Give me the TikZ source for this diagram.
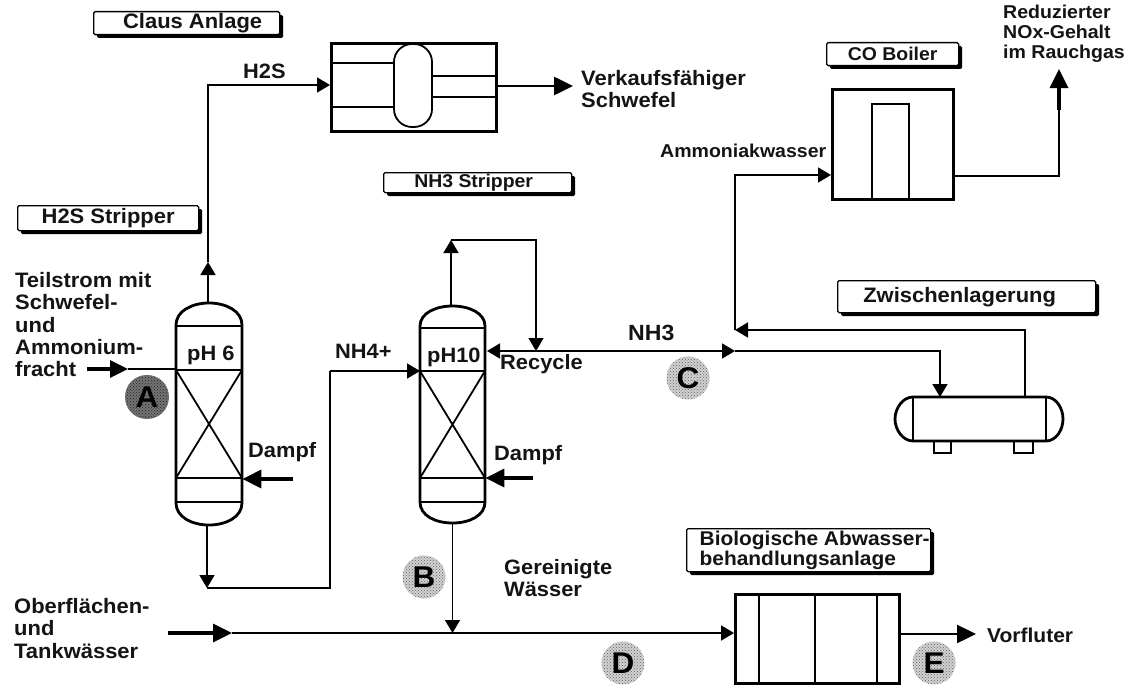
\documentclass[tikz,border=0pt]{standalone}
\usepackage{fontspec}
\setmainfont[FakeStretch=1.05]{Liberation Sans}
\usetikzlibrary{arrows.meta,calc,patterns}
\tikzset{
  x=1pt,y=-1pt,
  smalltxt/.style={font=\bfseries\fontsize{18.6}{20}\selectfont,align=left,anchor=west,inner sep=0pt,text=black!92},
  txt/.style={font=\bfseries\fontsize{20.8}{22}\selectfont,align=left,anchor=west,inner sep=0pt,text=black!92},
  bigtxt/.style={font=\bfseries\fontsize{20.9}{22.4}\selectfont,align=left,anchor=west,inner sep=0pt,text=black!92},
  tagbox/.style={draw=black,line width=1.3pt,fill=white,inner sep=0pt,rounded corners=1.5pt,align=left,text=black!92},
  vessel/.style={line width=2.8pt},
  inner/.style={line width=1.4pt},
  pipe/.style={line width=1.6pt},
  thickpipe/.style={line width=3.4pt},
  tip/.style={-{Triangle[length=13pt,width=15pt]}},
  bigtip/.style={-{Triangle[length=19pt,width=18pt]}},
  badge/.style={circle,inner sep=0pt,minimum size=43pt,preaction={fill=black!18},pattern=crosshatch dots,pattern color=black!62,font=\bfseries\fontsize{30}{30}\selectfont},
  badgedark/.style={circle,inner sep=0pt,minimum size=44pt,preaction={fill=black!55},pattern=crosshatch dots,pattern color=black!85,font=\bfseries\fontsize{30}{30}\selectfont},
}
\newcommand{\tagb}[6]{% name, x1,y1,x2,y2,text
  \fill[black,rounded corners=1.5pt] (#2+4,#3+4) rectangle (#4+4,#5+4);
  \node[tagbox,minimum width=#4-#2,minimum height=#5-#3,anchor=north west] (#1) at (#2,#3) {#6};
}
\newcommand{\fa}{\bfseries\fontsize{20.9}{22}\selectfont}
\newcommand{\fb}{\bfseries\fontsize{18.5}{20.5}\selectfont}
\newcommand{\fc}{\bfseries\fontsize{19.9}{21}\selectfont}
\begin{document}
\begin{tikzpicture}
\useasboundingbox (0,0) rectangle (1132,685);
\fill[white] (0,0) rectangle (1132,685);

% tag boxes
\tagb{tclaus}{93}{11}{279}{34}{\fa\hspace*{12pt}Claus Anlage}
\tagb{th2s}{17}{205}{198}{230}{\fa H2S Stripper}
\tagb{tnh3}{383}{172}{571}{192}{\fb NH3 Stripper\hspace*{8pt}}
\tagb{tco}{826}{42}{958}{65}{\fb CO Boiler}
\tagb{tzw}{837}{280}{1095}{312}{\fa Zwischenlagerung\hspace*{14pt}}
\tagb{tbio}{686}{528}{930}{571}{\fc\hspace*{12pt}Biologische Abwasser-\\\fc\hspace*{12pt}behandlungsanlage\hspace*{33pt}}

% Claus unit
\node[draw,vessel,minimum width=165pt,minimum height=88pt,inner sep=0pt,anchor=north west] (claus) at (330,42) {};
\draw[inner] (330,63) -- (394,63) (330,107) -- (394,107) (432,76) -- (495,76) (432,97) -- (495,97);
\draw[line width=1.8pt,rounded corners=18pt,fill=white] (394,44) rectangle (432,127);

% CO boiler
\node[draw,vessel,minimum width=121pt,minimum height=110pt,inner sep=0pt,anchor=north west] (boiler) at (831,88) {};
\draw[line width=1.8pt] (872,198) -- (872,104) -- (909,104) -- (909,198);

% Bio plant
\node[draw,vessel,minimum width=164pt,minimum height=89pt,inner sep=0pt,anchor=north west] (bio) at (734,593) {};
\draw[inner] (759,593) -- (759,682) (815,593) -- (815,682) (877,593) -- (877,682);

% Column A
\node[minimum width=66pt,minimum height=222pt,inner sep=0pt,anchor=north west] (colA) at (176,303) {};
\draw[vessel] (176,325) .. controls (176,311) and (192,303) .. (209,303) .. controls (226,303) and (242,311) .. (242,325) -- (242,503) .. controls (242,517) and (226,525) .. (209,525) .. controls (192,525) and (176,517) .. (176,503) -- cycle;
\draw[line width=2pt] (176,326) -- (242,326) (176,370) -- (242,370) (176,502) -- (242,502);
\draw[inner] (176,478) -- (242,478);
\draw[line width=1.8pt] (176,370) -- (242,478) (242,370) -- (176,478);

% Column B
\node[minimum width=65pt,minimum height=217pt,inner sep=0pt,anchor=north west] (colB) at (420,306) {};
\draw[vessel] (420,326) .. controls (420,313) and (436,306) .. (452.5,306) .. controls (469,306) and (485,313) .. (485,326) -- (485,502) .. controls (485,516) and (469,523) .. (452.5,523) .. controls (436,523) and (420,516) .. (420,502) -- cycle;
\draw[line width=2pt] (420,328) -- (485,328) (420,371) -- (485,371) (420,502) -- (485,502);
\draw[inner] (420,478) -- (485,478);
\draw[line width=1.8pt] (420,371) -- (485,478) (485,371) -- (420,478);

% Tank
\node[minimum width=168pt,minimum height=44pt,inner sep=0pt,anchor=north west] (tank) at (895,397) {};
\draw[vessel] (913,397) -- (1046,397) .. controls (1056,397) and (1063,408) .. (1063,419) .. controls (1063,430) and (1056,441) .. (1046,441) -- (913,441) .. controls (903,441) and (895,430) .. (895,419) .. controls (895,408) and (903,397) .. (913,397) -- cycle;
\draw[line width=2.2pt] (913,397) -- (913,441) (1046,397) -- (1046,441);
\draw[line width=2.2pt] (934,441) -- (934,453) -- (951,453) -- (951,441) (1014,441) -- (1014,453) -- (1033,453) -- (1033,441);

% H2S line
\coordinate (h2sup) at (208,274);
\coordinate (h2stip) at (208,262);
\coordinate (h2scorner) at (208,85);
\draw[pipe,tip] (colA.north -| h2sup) -- (h2stip);
\draw[pipe,tip] (h2stip) -- (h2scorner) -- (h2scorner -| claus.west);
% sulphur out
\coordinate (sout) at (573,86);
\draw[thickpipe,line width=2.6pt,bigtip] (claus.east |- sout) -- (sout);

% Feed A
\coordinate (feedS) at (87,369);
\coordinate (feedM) at (128,369);
\draw[thickpipe,-{Triangle[length=18pt,width=17pt]}] (feedS) -- (feedM);
\draw[pipe] (feedM) -- (feedM -| colA.west);

% Steam A, B
\coordinate (stA) at (293,479);
\draw[thickpipe,bigtip] (stA) -- (stA -| colA.east);
\coordinate (stB) at (533,478);
\draw[thickpipe,bigtip] (stB) -- (stB -| colB.east);

% NH4+
\coordinate (dA) at (207,588);
\coordinate (uA) at (330,588);
\coordinate (rA) at (330,371);
\draw[pipe,tip] (colA.south -| dA) -- (dA);
\draw[pipe] (dA) -- (uA) -- (rA);
\draw[pipe,tip] (rA) -- (colB.west |- rA);

% Recycle
\coordinate (rtop) at (451,240);
\coordinate (rright) at (536,240);
\coordinate (nhl) at (487,351);
\coordinate (rdown) at (536,351);
\coordinate (nhm) at (735,351);
\coordinate (nhr) at (940,351);
\draw[pipe,tip] (colB.north -| rtop) -- (rtop);
\draw[pipe,tip] (rtop) -- (rright) -- (rdown);
\draw[pipe,tip] (rdown) -- (nhl);
\draw[pipe,tip] (rdown) -- (nhm);
\draw[pipe,tip] (nhm) -- (nhr) -- (nhr |- tank.north);

% Storage to boiler
\coordinate (tup) at (1025,330);
\coordinate (aml) at (735,330);
\coordinate (amt) at (735,175);
\draw[pipe,tip] (tank.north -| tup) -- (tup) -- (aml);
\draw[pipe,tip] (aml) -- (amt) -- (boiler.west |- amt);

% Flue gas
\coordinate (fc) at (1059,176);
\coordinate (fs) at (1059,110);
\coordinate (ft) at (1059,69);
\draw[pipe] (boiler.east |- fc) -- (fc) -- (fs);
\draw[thickpipe,bigtip] (fs) -- (ft);

% Main water line
\coordinate (mS) at (168,633);
\coordinate (mM) at (232,633);
\coordinate (mJ) at (452.5,633);
\draw[thickpipe,bigtip] (mS) -- (mM);
\draw[pipe,line width=2pt,tip] (mM) -- (bio.west |- mM);
\draw[pipe,tip] (colB.south -| mJ) -- (mJ);
\coordinate (vout) at (976,634);
\draw[thickpipe,line width=2.4pt,bigtip] (bio.east |- vout) -- (vout);

% Text
\node[txt] (t1) at (243,71) {H2S};
\node[bigtxt,anchor=north west] (t2) at (581,70) {Verkaufsfähiger\\Schwefel};
\node[smalltxt,anchor=north west] (t4) at (1003,5) {Reduzierter\\NOx-Gehalt\\im Rauchgas};
\node[smalltxt] (t5) at (660,151) {Ammoniakwasser};
\node[bigtxt,anchor=north west] (t6) at (15,272) {Teilstrom mit\\Schwefel-\\und\\Ammonium-\\fracht};
\node[txt] (t7) at (187,355) {pH 6};
\node[txt] (t8) at (427,357) {pH10};
\node[txt] (t9) at (335,351) {NH4+};
\node[txt] (t10) at (500,364) {Recycle};
\node[txt] (t11) at (628,333) {\fontsize{22}{24}\selectfont NH3};
\node[txt] (t12) at (248,452) {Dampf};
\node[txt] (t13) at (494,455) {Dampf};
\node[txt,anchor=north west] (t14) at (504,559) {Gereinigte\\Wässer};
\node[bigtxt,anchor=north west] (t15) at (14,598) {Oberflächen-\\und\\Tankwässer};
\node[txt] (t16) at (987,635) {\fontsize{20}{22}\selectfont Vorfluter};

% Badges
\node[badgedark] (bA) at (147,397) {A};
\node[badge] (bB) at (424,577) {B};
\node[badge] (bC) at (688,378) {C};
\node[badge] (bD) at (623,663) {D};
\node[badge] (bE) at (934,663) {E};
\end{tikzpicture}
\end{document}
